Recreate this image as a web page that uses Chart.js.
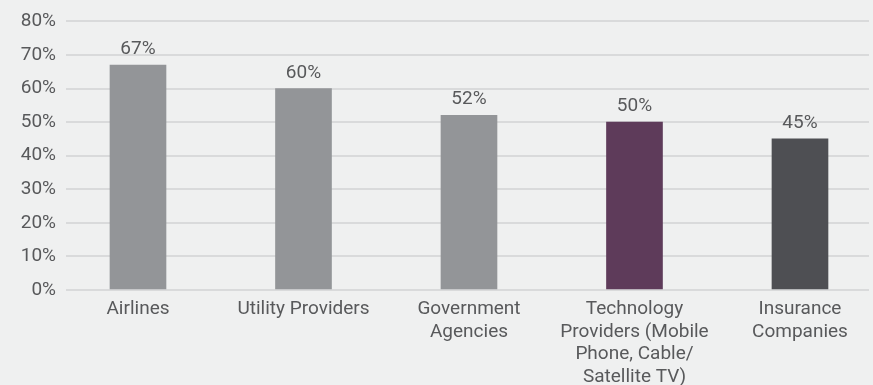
<!DOCTYPE html>
<html>
<head>
<meta charset="utf-8">
<script src="https://cdn.jsdelivr.net/npm/chart.js@4"></script>
<style>
  html, body { margin: 0; padding: 0; background: #eff0f0; }
  #wrap { width: 873px; height: 385px; }
</style>
</head>
<body>
<div id="wrap"><canvas id="barChart" width="873" height="385"></canvas></div>
<script>
const categories = [
    ['Airlines'],
    ['Utility Providers'],
    ['Government', 'Agencies'],
    ['Technology', 'Providers (Mobile', 'Phone, Cable/', 'Satellite TV)'],
    ['Insurance', 'Companies']
];
const percentValues = [67, 60, 52, 50, 45];
const barColors = ['#939598', '#939598', '#939598', '#5e3b5a', '#4e4f53'];
const yTicks = [0, 10, 20, 30, 40, 50, 60, 70, 80];

const textColor = '#58595b';
const fontFamily = 'Roboto, "Noto Sans", sans-serif';

// value labels above each bar
const valueLabels = {
    id: 'valueLabels',
    afterDatasetsDraw(chart) {
        const ctx = chart.ctx;
        const meta = chart.getDatasetMeta(0);
        ctx.save();
        ctx.font = `19px ${fontFamily}`;
        ctx.fillStyle = textColor;
        ctx.textAlign = 'center';
        ctx.textBaseline = 'alphabetic';
        meta.data.forEach((bar, i) => {
            ctx.fillText(percentValues[i] + '%', bar.x, bar.y - 11);
        });
        ctx.restore();
    }
};

const ctx = document.getElementById('barChart').getContext('2d');
new Chart(ctx, {
    type: 'bar',
    data: {
        datasets: [{
            data: percentValues.map((v, i) => ({ x: i, y: v })),
            backgroundColor: barColors,
            borderWidth: 0,
            barThickness: 56
        }]
    },
    options: {
        responsive: false,
        animation: false,
        layout: { padding: { top: 16, right: 4, left: 0, bottom: 0 } },
        plugins: {
            legend: { display: false },
            tooltip: { enabled: false }
        },
        scales: {
            x: {
                type: 'linear',
                offset: false,
                min: -0.435,
                max: 4.417,
                grid: { display: false },
                border: { display: false },
                afterBuildTicks: scale => {
                    scale.ticks = categories.map((_, i) => ({ value: i }));
                },
                afterFit: scale => { scale.height = 95; },
                ticks: {
                    autoSkip: false,
                    maxRotation: 0,
                    padding: 0,
                    color: textColor,
                    font: { family: fontFamily, size: 19, lineHeight: 1.19 },
                    callback: value => categories[value]
                }
            },
            y: {
                min: 0,
                max: 80,
                grid: { color: '#d9dadb', lineWidth: 2, drawTicks: false },
                border: { display: false },
                afterBuildTicks: scale => {
                    scale.ticks = yTicks.map(v => ({ value: v }));
                },
                afterFit: scale => { scale.width = 66; },
                ticks: {
                    padding: 10,
                    color: textColor,
                    font: { family: fontFamily, size: 19 },
                    callback: value => value + '%'
                }
            }
        }
    },
    plugins: [valueLabels]
});
</script>
</body>
</html>
